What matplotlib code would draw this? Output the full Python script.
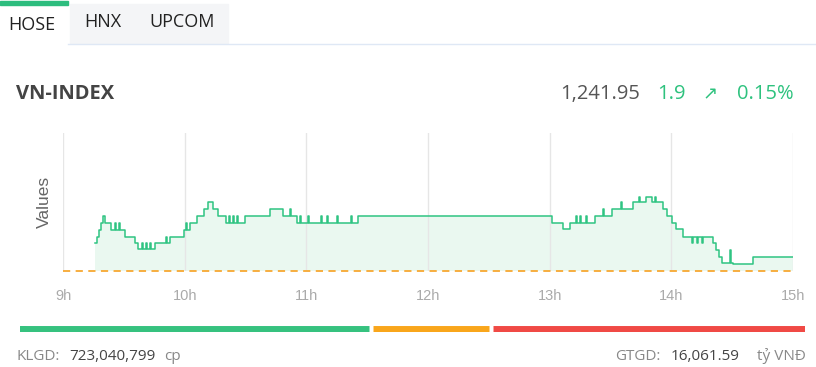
import numpy as np
import matplotlib.pyplot as plt
from matplotlib.patches import Rectangle

# Intraday VN-INDEX (minutes after 09:00, index value), step series
minutes = [15.8, 16.8, 17.7, 18.7, 19.7, 20.7, 23.7, 25.5, 26.0, 27.5, 28.0,
           30.6, 35.5, 37.0, 39.0, 39.5, 41.0, 41.5, 43.0, 43.5, 45.4, 51.0, 51.5,
           52.8, 59.7, 60.5, 61.0, 62.6, 66.1, 69.5, 71.5, 74.0, 76.4, 80.4,
           82.0, 82.5, 84.0, 84.5, 86.0, 86.5, 89.7, 102.1, 108.5, 112.0, 112.5,
           115.4, 117.0, 117.5, 121.0, 121.5, 127.0, 127.5, 130.0, 130.5, 135.0,
           135.5, 142.0, 142.5, 145.4, 241.1, 246.5, 250.0, 253.0, 253.5, 255.0,
           255.5, 258.0, 258.5, 262.3, 266.5, 267.0, 270.7, 275.0, 275.5, 281.0,
           284.0, 284.5, 287.4, 290.4, 292.0, 292.5, 295.8, 297.8, 300.2, 302.2,
           305.7, 310.0, 310.5, 312.5, 313.0, 315.0, 315.5, 320.5, 321.9, 323.4,
           324.9, 328.8, 329.3, 330.3, 340.2, 342.6, 359.9]
values = [1243.85, 1244.66, 1245.61, 1246.56, 1247.51, 1246.56, 1245.61, 1246.56, 1245.61, 1246.56, 1245.61,
          1244.66, 1243.85, 1243.00, 1243.85, 1243.00, 1243.85, 1243.00, 1243.85, 1243.00, 1243.85, 1244.66, 1243.85,
          1244.66, 1245.61, 1246.56, 1245.61, 1246.56, 1247.51, 1248.46, 1249.41, 1248.46, 1247.51, 1246.60,
          1247.51, 1246.60, 1247.51, 1246.60, 1247.51, 1246.60, 1247.51, 1248.46, 1247.51, 1248.46, 1247.51,
          1246.60, 1247.51, 1246.60, 1247.51, 1246.60, 1247.51, 1246.60, 1247.51, 1246.60, 1247.51,
          1246.60, 1247.51, 1246.60, 1247.51, 1246.60, 1245.75, 1246.60, 1247.51, 1246.60, 1247.51,
          1246.60, 1247.51, 1246.60, 1247.51, 1248.46, 1247.51, 1248.46, 1249.41, 1248.46, 1249.41,
          1250.09, 1249.41, 1250.09, 1249.41, 1250.09, 1249.41, 1248.46, 1247.51, 1246.60, 1245.75,
          1244.66, 1243.85, 1244.66, 1243.85, 1244.66, 1243.85, 1244.66, 1243.85, 1242.90, 1241.95,
          1241.14, 1242.90, 1241.14, 1241.00, 1241.95, 1241.95, 1241.95]
ref_value = 1240.05

hour_ticks = [9, 10, 11, 12, 13, 14, 15]
hour_labels = ['9h', '10h', '11h', '12h', '13h', '14h', '15h']

index_name = 'VN-INDEX'
last_value = '1,241.95'
change = '1.9'
change_pct = '0.15%'

tabs = ['HOSE', 'HNX', 'UPCOM']
breadth = [179, 61, 160]   # up, unchanged, down
breadth_colors = ['#36c27f', '#f9a61b', '#f04a45']
klgd = '723,040,799'
gtgd = '16,061.59'

W, H = 816, 367
fig = plt.figure(figsize=(W / 100, H / 100), dpi=100)
fig.patch.set_facecolor('white')

def fx(x):
    return x / W

def fy(y):
    return 1 - y / H

ui = 'Open Sans'
green_txt = '#2ec27e'

# --- tabs ---
fig.patches.append(Rectangle((fx(70), fy(43)), fx(228) - fx(70), fy(4) - fy(43),
                             transform=fig.transFigure, color='#f4f5f7', zorder=0))
fig.patches.append(Rectangle((fx(0), fy(5)), fx(68), fy(1) - fy(5),
                             transform=fig.transFigure, color='#2dbd7e', zorder=1))
fig.add_artist(plt.Line2D([fx(68), 1], [fy(44), fy(44)], transform=fig.transFigure,
                          color='#dfe8f5', lw=1))
fig.text(fx(8), fy(25), tabs[0], fontsize=13, family=ui, color='#222', va='center')
fig.text(fx(84), fy(22), tabs[1], fontsize=13, family=ui, color='#222', va='center')
fig.text(fx(149), fy(22), tabs[2], fontsize=13, family=ui, color='#222', va='center')

# --- header ---
fig.text(fx(16), fy(94), index_name, fontsize=14.5, family=ui, weight='bold', color='#444', va='center')
fig.text(fx(640), fy(94), last_value, fontsize=14.5, family=ui, color='#555', va='center', ha='right')
fig.text(fx(657), fy(94), change, fontsize=14.5, family=ui, color=green_txt, va='center')
fig.text(fx(702), fy(94), '\u2197', fontsize=13, family='DejaVu Sans', color=green_txt, va='center')
fig.text(fx(794), fy(94), change_pct, fontsize=14.5, family=ui, color=green_txt, va='center', ha='right')

# --- chart ---
ax = fig.add_axes([fx(63), fy(271), fx(793) - fx(63), fy(133) - fy(271)])
t = 9 + np.array(minutes) / 60.0
v = np.array(values)
ax.fill_between(t, v, ref_value, step='post', color='#eaf8f0', lw=0)
ax.step(t, v, where='post', color='#2fc482', lw=1.1)
ax.axhline(ref_value, color='#f7a832', lw=1.3, ls=(0, (4, 3)), clip_on=False)
ax.set_xlim(9, 15)
ax.set_ylim(ref_value, ref_value + 138 / 7.37)
ax.set_xticks(hour_ticks)
ax.set_xticklabels(hour_labels, family='Liberation Sans', fontsize=10.5, color='#aaaaaa')
ax.tick_params(axis='x', length=0, pad=13)
ax.set_yticks([])
ax.grid(axis='x', color='#e6e6e6', lw=1)
for s in ax.spines.values():
    s.set_visible(False)
ax.set_ylabel('Values', family='Liberation Sans', fontsize=12.5, color='#666', labelpad=8)

# --- breadth bar ---
bx = fig.add_axes([fx(20), fy(332), fx(805) - fx(20), fy(326) - fy(332)])
total = sum(breadth)
gap = total * 4 / 785
left = 0
n = len(breadth)
for i, (cnt, col) in enumerate(zip(breadth, breadth_colors)):
    right = left + cnt - (gap / 2 if i < n - 1 else 0)
    start = left + (gap / 2 if i > 0 else 0)
    bx.plot([start, right], [0, 0], color=col, lw=5, solid_capstyle='butt')
    if i == 0:
        bx.plot([start, start + gap], [0, 0], color=col, lw=5, solid_capstyle='round')
    if i == n - 1:
        bx.plot([right - gap, right], [0, 0], color=col, lw=5, solid_capstyle='round')
    left += cnt
bx.set_xlim(0, total)
bx.set_ylim(-1, 1)
bx.axis('off')

# --- footer ---
fs = 11
fig.text(fx(16), fy(356), 'KLGD:', fontsize=fs, family=ui, color='#888', va='center')
fig.text(fx(69), fy(356), klgd, fontsize=fs, family=ui, color='#444', va='center')
fig.text(fx(164), fy(356), 'cp', fontsize=fs, family=ui, color='#888', va='center')
fig.text(fx(661), fy(356), 'GTGD:', fontsize=fs, family=ui, color='#888', va='center', ha='right')
fig.text(fx(671), fy(356), gtgd, fontsize=fs, family=ui, color='#444', va='center')
fig.text(fx(806), fy(356), 'tỷ VNĐ', fontsize=fs, family=ui, color='#888', va='center', ha='right')

fig.savefig('out.png', dpi=100)
